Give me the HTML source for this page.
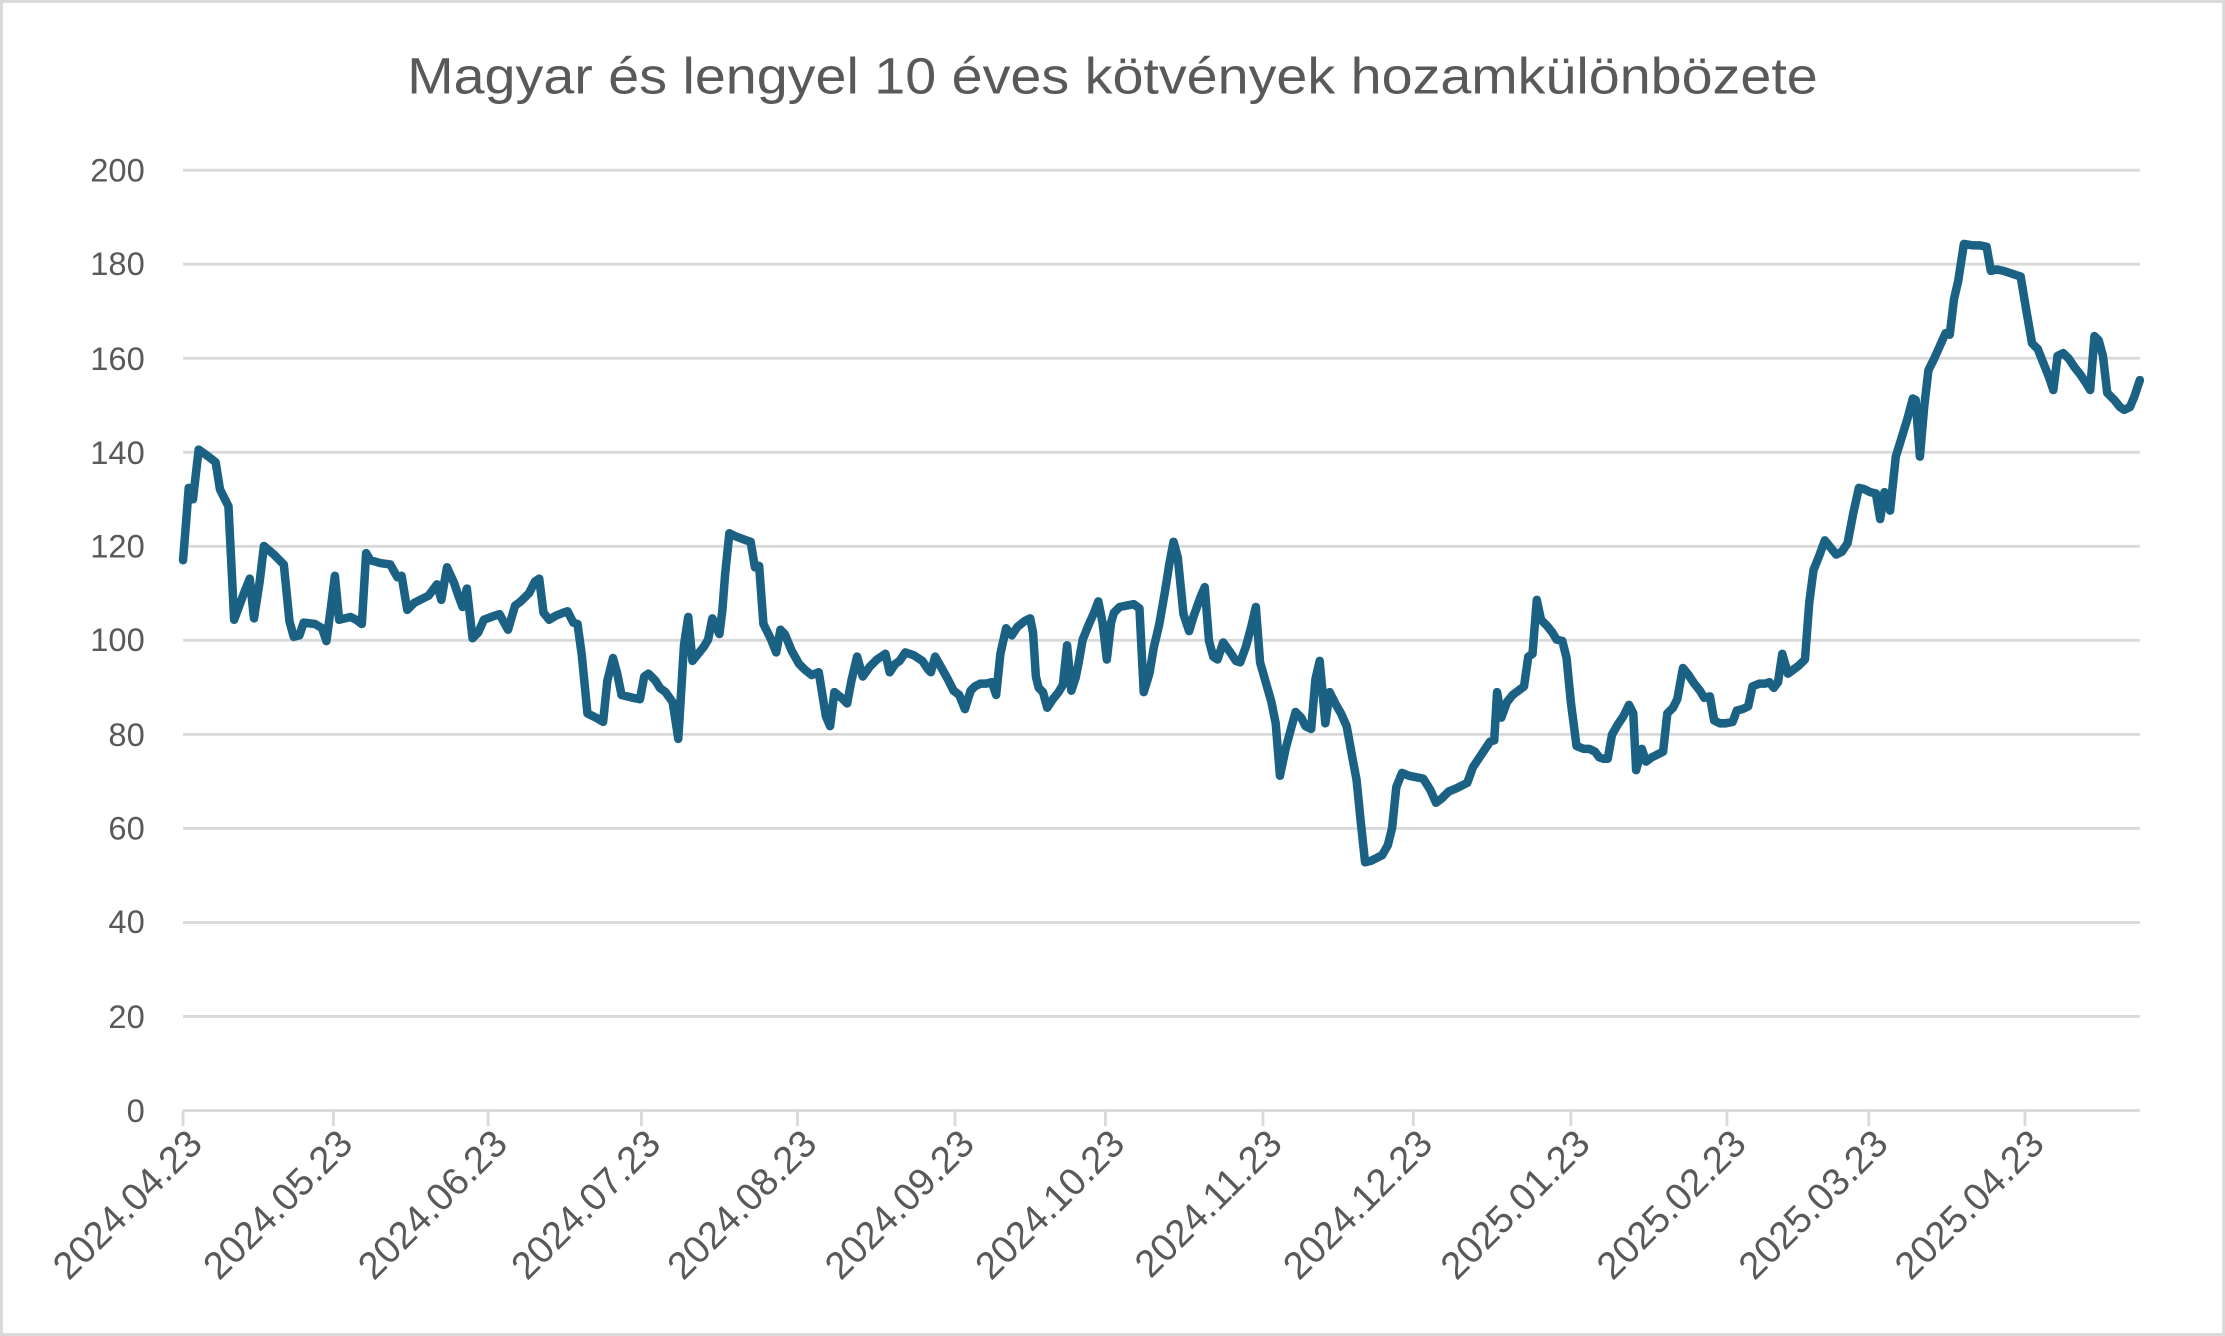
<!DOCTYPE html>
<html><head><meta charset="utf-8"><style>html,body{margin:0;padding:0;background:#fff}svg{display:block}</style></head>
<body>
<svg width="2225" height="1336" viewBox="0 0 1568 942" preserveAspectRatio="none" xmlns="http://www.w3.org/2000/svg" font-family="Liberation Sans, sans-serif">
<rect x="1" y="1" width="1566" height="940" fill="#fff" stroke="#d9d9d9" stroke-width="2"/>
<text x="784" y="66" text-anchor="middle" font-size="36" fill="#595959" textLength="994" lengthAdjust="spacingAndGlyphs">Magyar és lengyel 10 éves kötvények hozamkülönbözete</text>
<g stroke="#d9d9d9" stroke-width="2">
<line x1="129" x2="1508" y1="120" y2="120"/><line x1="129" x2="1508" y1="186.3" y2="186.3"/><line x1="129" x2="1508" y1="252.6" y2="252.6"/><line x1="129" x2="1508" y1="318.9" y2="318.9"/><line x1="129" x2="1508" y1="385.2" y2="385.2"/><line x1="129" x2="1508" y1="451.5" y2="451.5"/><line x1="129" x2="1508" y1="517.8" y2="517.8"/><line x1="129" x2="1508" y1="584.1" y2="584.1"/><line x1="129" x2="1508" y1="650.4" y2="650.4"/><line x1="129" x2="1508" y1="716.7" y2="716.7"/><line x1="129" x2="1508" y1="783" y2="783"/>
<g stroke-width="2"><line x1="129" x2="129" y1="783" y2="794"/><line x1="235" x2="235" y1="783" y2="794"/><line x1="344" x2="344" y1="783" y2="794"/><line x1="452" x2="452" y1="783" y2="794"/><line x1="562" x2="562" y1="783" y2="794"/><line x1="673" x2="673" y1="783" y2="794"/><line x1="779" x2="779" y1="783" y2="794"/><line x1="890" x2="890" y1="783" y2="794"/><line x1="996" x2="996" y1="783" y2="794"/><line x1="1107" x2="1107" y1="783" y2="794"/><line x1="1217" x2="1217" y1="783" y2="794"/><line x1="1317" x2="1317" y1="783" y2="794"/><line x1="1427" x2="1427" y1="783" y2="794"/></g>
</g>
<g font-size="23" fill="#595959" text-anchor="end">
<text x="102" y="128">200</text><text x="102" y="194">180</text><text x="102" y="261">160</text><text x="102" y="327">140</text><text x="102" y="393">120</text><text x="102" y="459">100</text><text x="102" y="526">80</text><text x="102" y="592">60</text><text x="102" y="658">40</text><text x="102" y="725">20</text><text x="102" y="791">0</text>
</g>
<g font-size="27" fill="#595959" text-anchor="end">
<text transform="translate(144,808) rotate(-45)">2024.04.23</text>
<text transform="translate(250,808) rotate(-45)">2024.05.23</text>
<text transform="translate(359,808) rotate(-45)">2024.06.23</text>
<text transform="translate(467,808) rotate(-45)">2024.07.23</text>
<text transform="translate(577,808) rotate(-45)">2024.08.23</text>
<text transform="translate(688,808) rotate(-45)">2024.09.23</text>
<text transform="translate(794,808) rotate(-45)">2024.10.23</text>
<text transform="translate(905,808) rotate(-45)">2024.11.23</text>
<text transform="translate(1011,808) rotate(-45)">2024.12.23</text>
<text transform="translate(1122,808) rotate(-45)">2025.01.23</text>
<text transform="translate(1232,808) rotate(-45)">2025.02.23</text>
<text transform="translate(1332,808) rotate(-45)">2025.03.23</text>
<text transform="translate(1442,808) rotate(-45)">2025.04.23</text>
</g>
<polyline fill="none" stroke="#1a6184" stroke-width="6" stroke-linejoin="round" stroke-linecap="round" points="129,395 131,370 133,344 136,352 140,317 147,322 152,326 155,345 161,357 165,437 172,418 176,408 179,436 183,410 186,385 193,391 200,398 204,438 207,449 211,448 214,439 222,440 227,443 230,452 233,430 236,406 239,437 247,435 251,437 255,440 258,390 261,395 268,397 275,398 280,407 283,406 287,430 292,425 298,422 302,420 308,412 311,423 315,400 320,411 323,420 326,428 329,415 333,450 337,446 341,437 349,434 352,433 358,444 363,427 367,424 373,418 377,410 380,408 383,432 387,437 392,434 397,432 400,431 404,439 407,440 410,462 414,503 420,506 425,509 428,480 432,464 435,475 438,490 446,492 451,493 454,477 457,475 462,480 465,485 469,488 474,495 478,521 482,455 485,435 488,466 492,461 496,456 499,451 502,436 507,447 509,431 511,405 514,376 518,378 526,381 529,382 532,400 535,399 538,440 543,450 547,460 550,444 553,447 558,459 563,468 567,472 572,476 577,474 582,505 585,512 588,488 593,492 597,496 600,480 604,463 608,477 613,470 618,465 624,461 627,474 631,468 634,466 638,460 644,462 650,466 654,472 656,474 659,463 663,470 668,479 672,487 676,490 680,500 684,487 687,484 691,482 695,482 699,481 702,490 705,461 709,443 713,448 717,442 722,438 726,436 728,446 730,477 732,485 735,488 738,499 742,493 746,488 749,483 752,455 755,487 758,478 760,468 763,451 767,441 771,432 774,424 777,439 780,465 783,439 785,432 789,428 794,427 799,426 803,429 806,488 810,475 813,457 817,440 821,417 824,398 827,382 830,393 834,433 838,445 841,435 846,421 849,414 852,452 855,463 858,465 862,453 867,460 871,466 874,467 878,456 882,441 885,428 888,467 892,481 896,495 899,510 902,547 906,528 910,513 913,502 917,506 920,512 924,514 927,479 930,466 934,510 937,488 941,496 945,503 949,512 953,534 956,550 959,580 962,608 966,607 970,605 974,603 978,596 981,584 984,555 988,545 993,547 998,548 1003,549 1008,557 1012,566 1016,563 1021,558 1026,556 1030,554 1034,552 1038,541 1042,535 1046,529 1050,523 1053,522 1055,488 1058,506 1062,495 1066,490 1070,487 1074,484 1077,463 1080,461 1083,423 1086,437 1090,441 1094,446 1097,451 1101,452 1104,464 1107,495 1111,526 1116,528 1120,528 1124,530 1127,534 1130,535 1133,535 1136,518 1140,511 1144,505 1148,497 1151,503 1153,543 1157,528 1160,537 1164,534 1168,532 1172,530 1175,503 1179,499 1182,493 1186,471 1190,476 1194,482 1198,487 1201,492 1205,491 1208,508 1212,510 1216,510 1221,509 1224,501 1228,500 1232,498 1235,484 1240,482 1244,482 1247,481 1250,485 1253,481 1256,461 1260,475 1264,472 1268,469 1272,465 1275,425 1278,402 1282,392 1286,381 1290,386 1294,391 1298,389 1302,383 1306,362 1310,344 1314,345 1318,347 1322,348 1325,366 1328,347 1332,360 1336,322 1340,309 1344,296 1348,281 1350,282 1353,322 1356,287 1359,261 1363,253 1367,244 1371,235 1374,236 1377,211 1380,198 1384,172 1390,173 1395,173 1400,174 1403,191 1407,190 1412,191 1418,193 1424,195 1428,219 1432,242 1436,246 1440,256 1444,266 1447,275 1450,251 1454,249 1458,253 1462,259 1466,264 1470,270 1473,275 1476,237 1479,240 1482,251 1485,277 1490,282 1494,287 1497,289 1501,287 1504,280 1508,268"/>
</svg>
</body></html>
